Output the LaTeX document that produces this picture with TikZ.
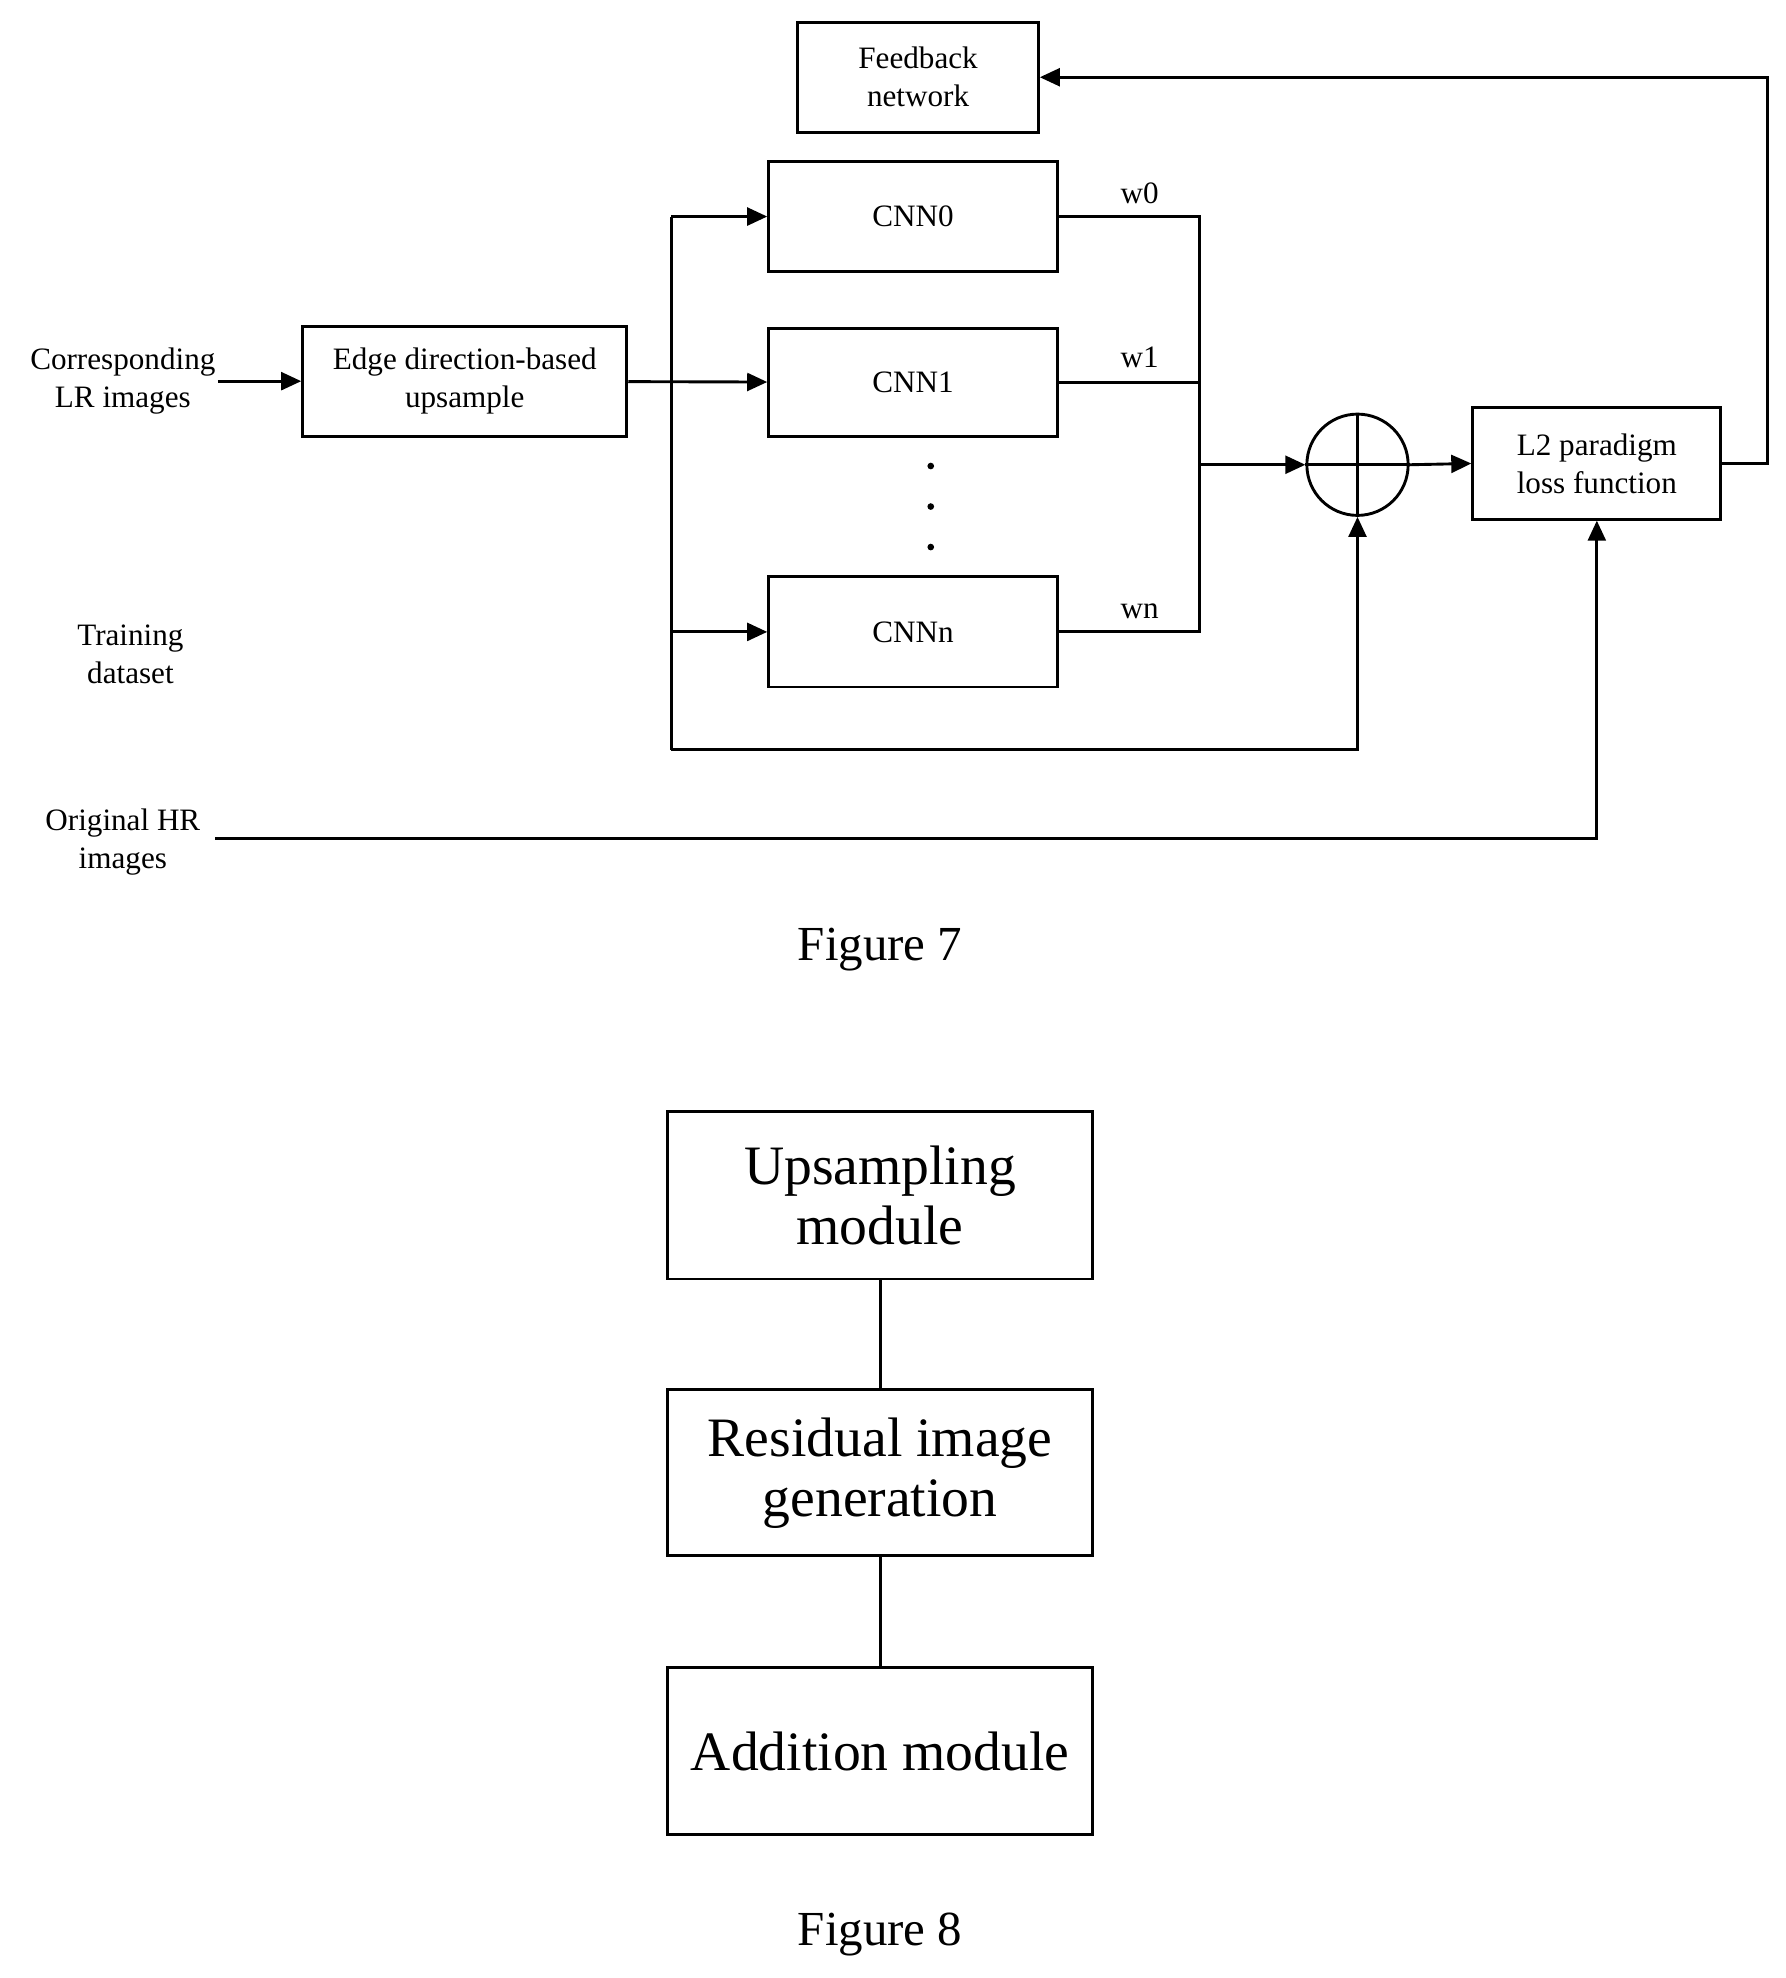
\documentclass[tikz,border=0pt]{standalone}
\usepackage{fontspec}
\setmainfont{Liberation Serif}
\usetikzlibrary{arrows.meta}
\begin{document}
\begin{tikzpicture}[x=0.02cm,y=-0.02cm,>={Triangle[length=9pt,width=8pt]},
                    line width=1.3pt]
  \tikzset{blk/.style={draw,align=center,inner sep=0pt,font=\fontsize{14}{17}\selectfont},
           big/.style={draw,align=center,inner sep=0pt,minimum width=6.72cm,minimum height=2.64cm,
                       font=\fontsize{25}{27}\selectfont},
           lbl/.style={align=center,font=\fontsize{14}{17}\selectfont},
           figcap/.style={font=\fontsize{22}{26}\selectfont}}
  \useasboundingbox (0,0) rectangle (1410,1562);

  \node[blk,minimum width=3.8cm,minimum height=1.74cm] (fb) at (725,61) {Feedback\\network};
  \node[blk,minimum width=4.56cm,minimum height=1.74cm] (c0) at (721,171) {CNN0};
  \node[blk,minimum width=4.56cm,minimum height=1.7cm] (c1) at (721,302) {CNN1};
  \node[blk,minimum width=4.56cm,minimum height=1.74cm] (cn) at (721,499) {CNNn};
  \node[blk,minimum width=5.12cm,minimum height=1.74cm] (ed) at (367,301) {Edge direction-based\\upsample};
  \node[draw,circle,minimum size=1.6cm,inner sep=0pt] (sum) at (1072,367) {};
  \draw (sum.north) -- (sum.south) (sum.west) -- (sum.east);
  \node[blk,minimum width=3.92cm,minimum height=1.76cm] (l2) at (1261,366) {L2 paradigm\\loss function};

  \node[lbl] (lr) at (97,301) {Corresponding\\LR images};
  \node[lbl] (td) at (103,517) {Training\\dataset};
  \node[lbl] (hr) at (97,665) {Original HR\\images};
  \node[lbl] (w0) at (900,153) {w0};
  \node[lbl] (w1) at (900,282) {w1};
  \node[lbl] (wn) at (900,483) {wn};
  \foreach \y in {368,400,432} \fill (735,\y) circle (1.5pt);

  \coordinate (bus) at (530,301);
  \coordinate (mrg) at (947,367);
  \draw[->] (172,301) -- (ed);
  \draw[->] (ed) -- (c1);
  \draw[->] (bus |- c0) -- (c0);
  \draw[->] (bus |- cn) -- (cn);
  \draw (bus |- c0) -- (530,592);
  \draw[->] (530,592) -| (sum.south);
  \draw (c0.east) -| (mrg |- cn) -- (cn.east);
  \draw (c1.east) -- (mrg |- c1);
  \draw[->] (mrg) -- (sum.west);
  \draw[->] (sum.east) -- (l2.west);
  \draw[->] (170,662) -| (l2.south);
  \draw[->] (l2.east) -- (1396,366) |- (fb.east);

  \node[figcap] (f7) at (695,750) {Figure 7};

  \node[big] (up) at (695,944) {Upsampling\\module};
  \node[big,minimum height=2.62cm] (rg) at (695,1163) {Residual image\\generation};
  \node[big] (ad) at (695,1383) {Addition module};
  \draw (up) -- (rg);
  \draw (rg) -- (ad);
  \node[figcap] (f8) at (695,1528) {Figure 8};
\end{tikzpicture}
\end{document}
